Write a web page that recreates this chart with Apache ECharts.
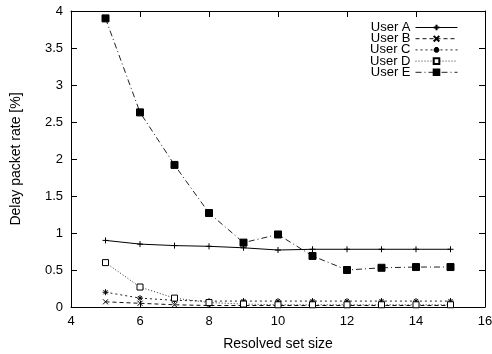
<!DOCTYPE html>
<html>
<head>
<meta charset="utf-8">
<script src="https://cdn.jsdelivr.net/npm/echarts@6/dist/echarts.min.js"></script>
<style>html,body{margin:0;padding:0;background:#fff}#c{width:492px;height:354px}</style>
</head>
<body>
<div id="c"></div>
<script>
var setSizes = [5, 6, 7, 8, 9, 10, 11, 12, 13, 14, 15];
var userA = [0.90, 0.85, 0.83, 0.82, 0.80, 0.77, 0.78, 0.78, 0.78, 0.78, 0.78];
var userB = [0.07, 0.05, 0.03, 0.02, 0.02, 0.02, 0.02, 0.02, 0.02, 0.02, 0.02];
var userC = [0.20, 0.12, 0.09, 0.08, 0.08, 0.08, 0.08, 0.08, 0.08, 0.08, 0.08];
var userD = [0.60, 0.27, 0.12, 0.06, 0.04, 0.03, 0.03, 0.03, 0.03, 0.03, 0.03];
var userE = [3.90, 2.63, 1.92, 1.27, 0.87, 0.98, 0.69, 0.50, 0.53, 0.54, 0.54];
var seriesNames = ['User A', 'User B', 'User C', 'User D', 'User E'];

function pairs(vals) { return setSizes.map(function (x, i) { return [x, vals[i]]; }); }

var FONT = '"Liberation Sans", Arial, Helvetica, sans-serif';
var plus = 'path://M0,5L10,5M5,0L5,10';
var cross = 'path://M0,0L10,10M10,0L0,10';
var star = 'path://M0,5L10,5M5,0L5,10M1.5,1.5L8.5,8.5M8.5,1.5L1.5,8.5';

function mk(name, vals, symbol, size, dash, stroke, fill, lineColor) {
  return {
    name: name, type: 'line', data: pairs(vals),
    symbol: symbol, symbolSize: size, showSymbol: true,
    lineStyle: { color: lineColor || '#000', width: 1, type: dash },
    itemStyle: { color: fill, borderColor: stroke, borderWidth: 1 },
    emphasis: { disabled: true }, animation: false, z: 3
  };
}

var chart = echarts.init(document.getElementById('c'), null, { renderer: 'canvas' });
chart.setOption({
  backgroundColor: '#fff',
  animation: false,
  grid: { left: 71, right: 7, top: 11, bottom: 47, containLabel: false, outerBoundsMode: 'none' },
  legend: {
    orient: 'vertical', right: 29, top: 16, align: 'right',
    itemWidth: 42, itemHeight: 7, itemGap: -1.8,
    lineStyle: { width: 1 },
    textStyle: { fontFamily: FONT, fontSize: 13, color: '#000', lineHeight: 11 },
    data: seriesNames, inactiveColor: '#000'
  },
  xAxis: [{
    type: 'value', min: 4, max: 16, interval: 2,
    name: 'Resolved set size', nameLocation: 'middle', nameGap: 30,
    nameTextStyle: { fontFamily: FONT, fontSize: 14, color: '#000' },
    axisLine: { onZero: false, lineStyle: { color: '#000', width: 1 } },
    axisTick: { inside: true, length: 6, lineStyle: { color: '#000' } },
    axisLabel: { fontFamily: FONT, fontSize: 13, color: '#000', margin: 8 },
    splitLine: { show: false }
  }, {
    type: 'value', min: 4, max: 16, interval: 2, position: 'top',
    axisLine: { onZero: false, lineStyle: { color: '#000', width: 1 } },
    axisTick: { inside: true, length: 6, lineStyle: { color: '#000' } },
    axisLabel: { show: false }, splitLine: { show: false }
  }],
  yAxis: [{
    type: 'value', min: 0, max: 4, interval: 0.5,
    name: 'Delay packet rate [%]', nameLocation: 'middle', nameGap: 48,
    nameTextStyle: { fontFamily: FONT, fontSize: 14, color: '#000' },
    axisLine: { show: true, onZero: false, lineStyle: { color: '#000', width: 1 } },
    axisTick: { show: true, inside: true, length: 6, lineStyle: { color: '#000' } },
    axisLabel: { fontFamily: FONT, fontSize: 13, color: '#000', margin: 8 },
    splitLine: { show: false }
  }, {
    type: 'value', min: 0, max: 4, interval: 0.5, position: 'right',
    axisLine: { show: true, onZero: false, lineStyle: { color: '#000', width: 1 } },
    axisTick: { show: true, inside: true, length: 6, lineStyle: { color: '#000' } },
    axisLabel: { show: false }, splitLine: { show: false }
  }],
  series: [
    mk('User A', userA, plus, 6, 'solid', '#000', '#000'),
    mk('User B', userB, cross, 5, [4, 3], '#000', '#000', '#111'),
    mk('User C', userC, star, 6, [2, 3], '#000', '#000', '#222'),
    mk('User D', userD, 'rect', 6, [1, 2], '#000', '#fff', '#333'),
    mk('User E', userE, 'rect', 7, [6, 3, 1, 3], '#000', '#000', '#222')
  ]
});
</script>
</body>
</html>
